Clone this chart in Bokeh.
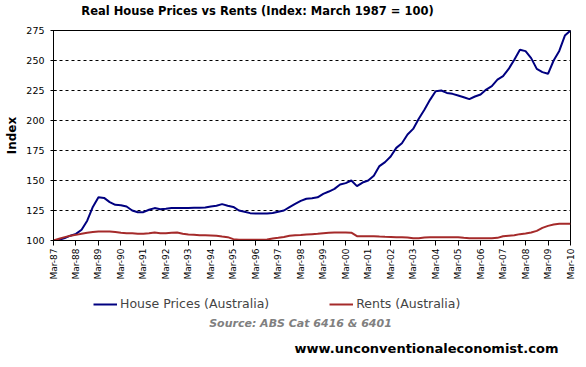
import math
from bokeh.plotting import figure
from bokeh.layouts import column
from bokeh.models import (Range1d, FixedTicker, Label, Legend, LegendItem, ColumnDataSource)
from bokeh.embed import file_html
from bokeh.resources import INLINE

# ---- data (quarterly, Mar-1987 .. Mar-2010) ----
tick_labels = ["Mar-87", "Mar-88", "Mar-89", "Mar-90", "Mar-91", "Mar-92", "Mar-93",
               "Mar-94", "Mar-95", "Mar-96", "Mar-97", "Mar-98", "Mar-99", "Mar-00",
               "Mar-01", "Mar-02", "Mar-03", "Mar-04", "Mar-05", "Mar-06", "Mar-07",
               "Mar-08", "Mar-09", "Mar-10"]

house_prices = [100, 100.5, 102, 104, 105.5, 109, 116.5, 128,
                136, 135.5, 132, 129.7, 129.4, 128.3, 125, 123.6,
                123.6, 125.6, 127, 126, 126.4, 127, 127, 127,
                127, 127.2, 127.2, 127.5, 128.3, 129, 130.3, 129,
                128, 125, 124, 122.8, 122.5, 122.5, 122.5, 123,
                124, 125, 127.8, 130.5, 133, 134.8, 135.3, 136,
                138.9, 140.8, 143, 146.7, 147.8, 150, 145.3, 148.3,
                150, 154, 162, 165.3, 170, 177.2, 181, 188.3,
                193, 201.4, 209, 217.2, 224.4, 225, 223, 222.2,
                220.8, 219.4, 217.8, 220, 221.7, 225.8, 228.6, 234,
                237, 243, 250.6, 258.9, 257.8, 252, 243, 240.3,
                238.9, 250, 258, 270.8, 275]

rents = [100, 101.4, 102.8, 103.9, 104.7, 105.6, 106.4, 107,
         107.5, 107.5, 107.5, 107, 106.4, 106.1, 106.1, 105.6,
         105.6, 106.1, 106.7, 106.1, 106.1, 106.4, 106.7, 105.6,
         105, 104.7, 104.4, 104.4, 104.2, 103.9, 103.3, 102.8,
         101.1, 100.6, 100.6, 100.6, 100.6, 100.6, 100.8, 101.7,
         102.2, 103, 103.9, 104.4, 104.5, 105, 105.3, 105.6,
         106.1, 106.4, 106.6, 106.7, 106.7, 106.5, 103.6, 103.6,
         103.6, 103.6, 103.3, 103.1, 103, 102.8, 102.8, 102.5,
         101.9, 101.9, 102.5, 102.8, 102.8, 102.8, 102.8, 102.8,
         102.8, 102.2, 101.9, 101.9, 101.9, 101.9, 101.9, 102.2,
         103.6, 104, 104.4, 105.3, 105.8, 106.7, 108, 110.5,
         112.2, 113.3, 113.9, 114, 114]

y_ticks = [100, 125, 150, 175, 200, 225, 250, 275]

series_names = ["House Prices (Australia)", "Rents (Australia)"]
series_colors = ["#000080", "#A52A2A"]

title_text = "Real House Prices vs Rents (Index: March 1987 = 100)"
source_text = "Source: ABS Cat 6416 & 6401"
site_text = "www.unconventionaleconomist.com"

quarters = list(range(len(house_prices)))
tick_pos = [4 * i for i in range(len(tick_labels))]

FONT = "DejaVu Sans"
W = 586
BL, BR = 53, 16  # frame insets shared by all three strips


def strip(height):
    s = figure(width=W, height=height, output_backend="svg", toolbar_location=None,
               x_range=Range1d(0, 1), y_range=Range1d(0, 1),
               x_axis_location=None, y_axis_location=None,
               min_border_left=BL, min_border_right=BR, min_border_top=0, min_border_bottom=0)
    s.grid.grid_line_color = None
    s.outline_line_color = None
    s.background_fill_color = "white"
    s.border_fill_color = "white"
    return s


# ---------------- header: title ----------------
h = strip(22)
h.add_layout(Label(x=204, y=12, x_units="screen", y_units="screen", text=title_text,
                   text_align="center", text_baseline="middle", text_font=FONT,
                   text_font_style="bold", text_font_size="11.5px", text_color="black"))

# ---------------- main chart ----------------
p = figure(width=W, height=266, output_backend="svg", toolbar_location=None,
           x_range=Range1d(0, quarters[-1]), y_range=Range1d(y_ticks[0], y_ticks[-1]),
           min_border_left=BL, min_border_right=BR, min_border_top=8, min_border_bottom=48)
p.background_fill_color = "white"
p.border_fill_color = "white"
p.outline_line_color = "black"
p.outline_line_width = 1

src = ColumnDataSource(dict(q=quarters, house=house_prices, rent=rents))
p.line("q", "house", source=src, line_color=series_colors[0], line_width=2)
p.line("q", "rent", source=src, line_color=series_colors[1], line_width=2)

p.xaxis.ticker = FixedTicker(ticks=tick_pos)
p.xaxis.major_label_overrides = {tp: lab for tp, lab in zip(tick_pos, tick_labels)}
p.xaxis.major_label_orientation = math.pi / 2
p.xaxis.major_tick_out = 5
p.xaxis.major_tick_in = 0
p.xaxis.minor_tick_line_color = None
p.xaxis.major_label_standoff = 3
p.xaxis.major_label_text_font = FONT
p.xaxis.major_label_text_font_size = "9px"
p.xaxis.major_label_text_color = "black"
p.xaxis.axis_line_color = "black"

p.yaxis.ticker = FixedTicker(ticks=y_ticks)
p.yaxis.major_tick_out = 3
p.yaxis.major_tick_in = 3
p.yaxis.minor_tick_line_color = None
p.yaxis.major_label_standoff = 6
p.yaxis.major_label_text_font = FONT
p.yaxis.major_label_text_font_size = "9.5px"
p.yaxis.major_label_text_color = "black"
p.yaxis.axis_label = "Index"
p.yaxis.axis_label_text_font = FONT
p.yaxis.axis_label_text_font_style = "bold"
p.yaxis.axis_label_text_font_size = "12px"
p.yaxis.axis_label_standoff = 4
p.yaxis.axis_label_text_color = "black"

p.xgrid.grid_line_color = None
p.ygrid.grid_line_color = "black"
p.ygrid.grid_line_dash = "3 3"
p.ygrid.grid_line_width = 1

# ---------------- footer: legend + source texts ----------------
f = strip(79)
# legend swatches: same series, but this strip's ranges keep them out of view
leg_renderers = [f.line("q", col, source=src, line_color=c, line_width=2)
                 for col, c in zip(["house", "rent"], series_colors)]
legend = Legend(items=[LegendItem(label=n, renderers=[r]) for n, r in zip(series_names, leg_renderers)],
                orientation="horizontal", location=(40, 56),
                glyph_width=24, glyph_height=14, label_standoff=3, spacing=60,
                padding=0, margin=0, border_line_color=None, background_fill_alpha=0,
                label_text_font=FONT, label_text_font_size="12.5px", label_height=14)
f.add_layout(legend, "center")

f.add_layout(Label(x=247, y=44, x_units="screen", y_units="screen", text=source_text,
                   text_align="center", text_baseline="middle", text_font=FONT,
                   text_font_style="bold italic", text_font_size="11px", text_color="#808080"))
f.add_layout(Label(x=373, y=19, x_units="screen", y_units="screen", text=site_text,
                   text_align="center", text_baseline="middle", text_font=FONT,
                   text_font_style="bold", text_font_size="13px", text_color="black"))

layout = column(h, p, f, spacing=0)
open("out.html", "w").write(file_html(layout, INLINE))
